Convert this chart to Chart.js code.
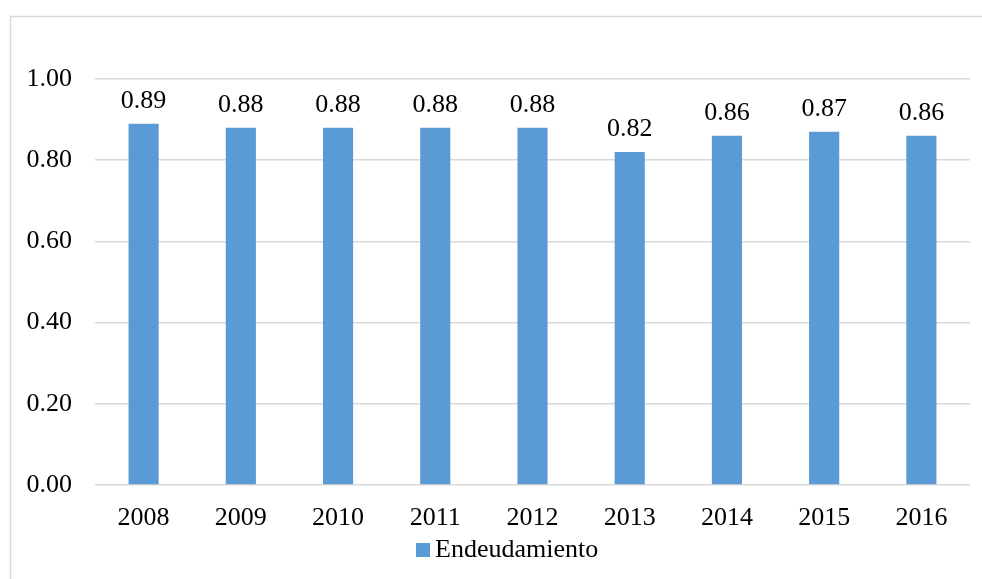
<!DOCTYPE html>
<html>
<head>
<meta charset="utf-8">
<script src="https://cdn.jsdelivr.net/npm/chart.js@4/dist/chart.umd.min.js"></script>
<style>
  html, body { margin: 0; padding: 0; background: #ffffff; }
  #wrap { width: 982px; height: 579px; position: relative; }
</style>
</head>
<body>
<div id="wrap"><canvas id="c" width="982" height="579"></canvas></div>
<script>
const years = ['2008', '2009', '2010', '2011', '2012', '2013', '2014', '2015', '2016'];
const endeudamiento = [0.89, 0.88, 0.88, 0.88, 0.88, 0.82, 0.86, 0.87, 0.86];
const seriesName = 'Endeudamiento';

const FONT = 'Liberation Serif, Times New Roman, serif';
const GRID = '#d9d9d9';
const BAR = '#5b9bd5';

// Light frame around the chart (left and top edges are visible)
const framePlugin = {
  id: 'frame',
  beforeDraw(chart) {
    const ctx = chart.ctx;
    ctx.save();
    ctx.fillStyle = '#ffffff';
    ctx.fillRect(0, 0, chart.width, chart.height);
    ctx.strokeStyle = GRID;
    ctx.lineWidth = 1.5;
    ctx.beginPath();
    ctx.moveTo(10.5, chart.height);
    ctx.lineTo(10.5, 16.5);
    ctx.lineTo(chart.width, 16.5);
    ctx.stroke();
    ctx.restore();
  }
};

// Value labels above each bar
const valueLabels = {
  id: 'valueLabels',
  afterDatasetsDraw(chart) {
    const ctx = chart.ctx;
    const meta = chart.getDatasetMeta(0);
    ctx.save();
    ctx.font = '26px ' + FONT;
    ctx.fillStyle = '#000000';
    ctx.textAlign = 'center';
    ctx.textBaseline = 'alphabetic';
    meta.data.forEach((bar, i) => {
      const v = chart.data.datasets[0].data[i];
      ctx.fillText(v.toFixed(2), bar.x, bar.y - 16);
    });
    ctx.restore();
  }
};

// Compact legend under the category axis: square swatch followed by the series name
const bottomLegend = {
  id: 'bottomLegend',
  afterDraw(chart) {
    const ctx = chart.ctx;
    const ds = chart.data.datasets[0];
    ctx.save();
    ctx.font = '26px ' + FONT;
    const textW = ctx.measureText(ds.label).width;
    const box = 14, gap = 5;
    const total = box + gap + textW;
    const cx = 507;
    const x0 = Math.round(cx - total / 2);
    const baseline = 557;
    ctx.fillStyle = ds.backgroundColor;
    ctx.fillRect(x0, 543, box, box);
    ctx.fillStyle = '#000000';
    ctx.textAlign = 'left';
    ctx.textBaseline = 'alphabetic';
    ctx.fillText(ds.label, x0 + box + gap, baseline);
    ctx.restore();
  }
};

new Chart(document.getElementById('c'), {
  type: 'bar',
  data: {
    labels: years,
    datasets: [{
      label: seriesName,
      data: endeudamiento,
      backgroundColor: BAR,
      borderWidth: 0,
      categoryPercentage: 1,
      barPercentage: 0.31
    }]
  },
  options: {
    responsive: false,
    animation: false,
    devicePixelRatio: 1,
    layout: { padding: { top: 79, right: 12, left: 0, bottom: 44 } },
    scales: {
      x: {
        grid: { display: false, drawTicks: false },
        border: { display: false },
        ticks: { color: '#000', font: { family: FONT, size: 26 }, padding: 18, maxRotation: 0 },
        afterFit(scale) { scale.height = 50; }
      },
      y: {
        min: 0,
        max: 1,
        ticks: {
          stepSize: 0.2,
          color: '#000',
          font: { family: FONT, size: 26 },
          padding: 23,
          callback: v => Number(v).toFixed(2)
        },
        grid: { color: GRID, lineWidth: 1.5, drawTicks: false },
        border: { display: false },
        afterFit(scale) { scale.width = 95; }
      }
    },
    plugins: {
      legend: { display: false },
      tooltip: { enabled: false }
    }
  },
  plugins: [framePlugin, valueLabels, bottomLegend]
});
</script>
</body>
</html>
